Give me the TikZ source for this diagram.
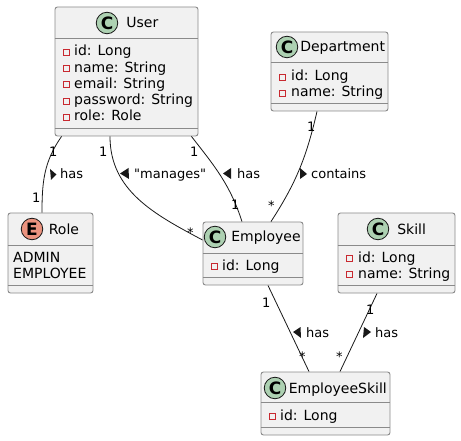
\documentclass[tikz,border=0pt]{standalone}
\usepackage{fontspec}
\setmainfont{DejaVu Sans}
\usetikzlibrary{positioning}
\definecolor{boxfill}{HTML}{F1F1F1}
\definecolor{boxline}{HTML}{8A8A8A}
\definecolor{edgeline}{HTML}{181818}
\definecolor{classspot}{HTML}{ADD1B2}
\definecolor{enumspot}{HTML}{EB937F}
\definecolor{privred}{HTML}{C82930}
\tikzset{
  classbox/.style={draw=boxline,fill=boxfill,rounded corners=2.5pt,inner sep=0pt,line width=0.9pt},
  sep/.style={draw=boxline,line width=0.9pt},
  spot/.style={draw=edgeline,circle,minimum size=21.5pt,inner sep=0pt,line width=0.8pt,font=\fontsize{17}{17}\selectfont\bfseries},
  cname/.style={font=\fontsize{14}{16}\selectfont,inner sep=0pt,anchor=base west,yshift=-5pt},
  attr/.style={font=\fontsize{14}{16}\selectfont,inner sep=0pt,anchor=base west},
  priv/.style={draw=privred,line width=0.9pt},
  edge/.style={draw=edgeline,line width=0.8pt},
  mult/.style={font=\fontsize{13}{15}\selectfont,inner sep=0pt,anchor=base west},
  lbl/.style={font=\fontsize{13}{15}\selectfont,inner sep=0pt,anchor=base west},
}
\begin{document}
\begin{tikzpicture}[x=1pt,y=-1pt]
    \useasboundingbox (0,0) rectangle (461,441);

    % boxes
    \node[classbox,minimum width=143pt,minimum height=129pt] (User) at (126.5,71.5) {};
    \node[classbox,minimum width=117pt,minimum height=79pt] (Department) at (329.5,71.5) {};
    \node[classbox,minimum width=85pt,minimum height=80pt] (Role) at (50.5,253) {};
    \node[classbox,minimum width=100pt,minimum height=63pt] (Employee) at (253,253.5) {};
    \node[classbox,minimum width=117pt,minimum height=80pt] (Skill) at (396.5,253) {};
    \node[classbox,minimum width=129pt,minimum height=63pt] (EmployeeSkill) at (325.5,403.5) {};

\foreach \b/\h in {User/32,Department/31,Role/33,Employee/32,Skill/33,EmployeeSkill/31} {
    \draw[sep] ([yshift=-\h pt]\b.north west) -- ([yshift=-\h pt]\b.north east);
    \draw[sep] ([yshift=8pt]\b.south west) -- ([yshift=8pt]\b.south east);
}

    % headers
    \node[spot,fill=classspot] (uc) at (107,23) {C};
    \node[right=8pt of uc,cname] (un) {User};
    \node[spot,fill=classspot] (dc) at (287,47) {C};
    \node[right=2pt of dc,cname] (dn) {Department};
    \node[spot,fill=enumspot] (rc) at (32,229) {E};
    \node[right=5.5pt of rc,cname] (rn) {Role};
    \node[spot,fill=classspot] (ec) at (215,237) {C};
    \node[right=5pt of ec,cname] (en) {Employee};
    \node[spot,fill=classspot] (sc) at (378,229) {C};
    \node[right=8pt of sc,cname] (sn) {Skill};
    \node[spot,fill=classspot] (esc) at (275,388) {C};
    \node[right=2.5pt of esc,cname] (esn) {EmployeeSkill};

    % fields
\foreach \t [count=\i from 0] in {id: Long,name: String,email: String,password: String,role: Role} {
    \node[attr] (ua\i) at (74,56+16.2*\i) {\t};
    \draw[priv] (63,49.5+16.2*\i) rectangle ++(6.5,6);
}
\foreach \t [count=\i from 0] in {id: Long,name: String} {
    \node[attr] (da\i) at (291,81+16*\i) {\t};
    \draw[priv] (279,74.5+16*\i) rectangle ++(6.5,6);
    \node[attr] (sa\i) at (358,262+16*\i) {\t};
    \draw[priv] (346,255.5+16*\i) rectangle ++(6.5,6);
}
    \node[attr] (ea0) at (222,270) {id: Long};
    \draw[priv] (211,263.5) rectangle ++(6.5,6);
    \node[attr] (esa0) at (280,420) {id: Long};
    \draw[priv] (269,413.5) rectangle ++(6.5,6);
    \node[attr] (ra0) at (13,262) {ADMIN};
    \node[attr] (ra1) at (13,278) {EMPLOYEE};

    % relations
    \draw[edge] ([xshift=7pt]User.south west) to[out=-125,in=90] ([xshift=-8.5pt]Role.north);
    \draw[edge] ([xshift=-16.5pt]User.south) to[out=-90,in=152] ([yshift=13.5pt]Employee.west);
    \draw[edge] ([xshift=-7pt]User.south east) to[out=-52,in=108] ([xshift=-11pt]Employee.north);
    \draw[edge] ([xshift=-12.5pt]Department.south) to[out=-103,in=57] ([xshift=18pt]Employee.north);
    \draw[edge] ([xshift=15pt]Employee.south) -- ([xshift=-16.5pt]EmployeeSkill.north);
    \draw[edge] ([xshift=-19.5pt]Skill.south) -- ([xshift=14.5pt]EmployeeSkill.north);

    % multiplicities
    \node[mult] (m1) at (49,157) {1};
    \node[mult] (m2) at (32,203) {1};
    \node[mult] (m3) at (99,157) {1};
    \node[mult] (m4) at (187,237) {*};
    \node[mult] (m5) at (190,157) {1};
    \node[mult] (m6) at (231,210) {1};
    \node[mult] (m7) at (307,132) {1};
    \node[mult] (m8) at (268,211) {*};
    \node[mult] (m9) at (262,307) {1};
    \node[mult] (m10) at (299,361) {*};
    \node[mult] (m11) at (366,314) {1};
    \node[mult] (m12) at (336,361) {*};

    % relation labels
    \fill[edgeline] (50,169) -- (56.5,174.5) -- (51,180) -- cycle;
    \node[lbl] (l1) at (60,179) {has};
    \fill[edgeline] (128.5,168) -- (120,173.5) -- (129,179) -- cycle;
    \node[lbl] (l2) at (134,179) {\textquotedbl manages\textquotedbl};
    \fill[edgeline] (231,168) -- (223,173.5) -- (231,179) -- cycle;
    \node[lbl] (l3) at (237,179) {has};
    \fill[edgeline] (300,168) -- (307,174) -- (300,179) -- cycle;
    \node[lbl] (l4) at (311,179) {contains};
    \fill[edgeline] (300.5,327) -- (293,332) -- (301,338) -- cycle;
    \node[lbl] (l5) at (306,337) {has};
    \fill[edgeline] (364,327) -- (371,332) -- (363,338) -- cycle;
    \node[lbl] (l6) at (375,337) {has};
\end{tikzpicture}
\end{document}
